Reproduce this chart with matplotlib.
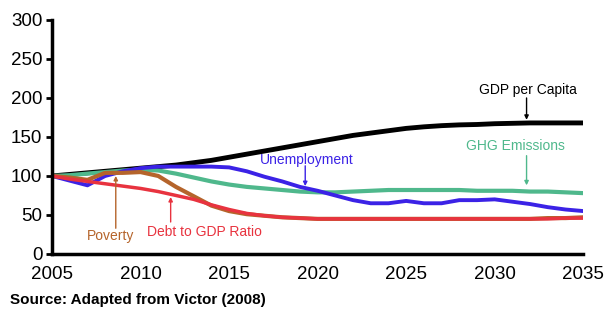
import matplotlib.pyplot as plt

plt.rcParams['font.family'] = ['Liberation Sans', 'DejaVu Sans']

years = list(range(2005, 2036))

gdp_per_capita = [100, 102, 104, 106, 108, 110, 112, 114, 117, 120, 124, 128, 132, 136, 140,
                  144, 148, 152, 155, 158, 161, 163, 164.5, 165.5, 166, 167, 167.5, 168, 168, 168, 168]
unemployment = [100, 94, 88, 100, 106, 110, 112, 112, 112, 112, 111, 106, 99, 93, 86,
                81, 75, 69, 65, 65, 68, 65, 65, 69, 69, 70, 67, 64, 60, 57, 55]
ghg_emissions = [100, 101, 103, 105, 107, 108, 107, 103, 98, 93, 89, 86, 84, 82, 80,
                 79, 79, 80, 81, 82, 82, 82, 82, 82, 81, 81, 81, 80, 80, 79, 78]
poverty = [100, 98, 95, 104, 104, 105, 100, 86, 74, 62, 55, 51, 49, 47, 46,
           45, 45, 45, 45, 45, 45, 45, 45, 45, 45, 45, 45, 45, 46, 46, 47]
debt_to_gdp = [100, 96, 93, 90, 87, 84, 80, 75, 70, 63, 57, 52, 49, 47, 46,
               45, 45, 45, 45, 45, 45, 45, 45, 45, 45, 45, 45, 45, 45, 46, 46]

fig = plt.figure(figsize=(6.05, 3.12), dpi=100)
ax = fig.add_axes([0.086, 0.186, 0.878, 0.75])

ax.plot(years, gdp_per_capita, color='black', lw=3.5)
ax.plot(years, ghg_emissions, color='#4fb88c', lw=3)
ax.plot(years, unemployment, color='#3b22e6', lw=2.8)
ax.plot(years, poverty, color='#b5642b', lw=3)
ax.plot(years, debt_to_gdp, color='#e8333f', lw=2.5)

# etiquetas y flechas verticales
def label(text, pos, arrow_x, arrow_from, arrow_to, color, va='center'):
    ax.text(pos[0], pos[1], text, color=color, fontsize=10, ha='center', va=va)
    ax.annotate('', xy=(arrow_x, arrow_to), xytext=(arrow_x, arrow_from),
                arrowprops=dict(arrowstyle='-|>', mutation_scale=6, color=color, lw=1,
                                shrinkA=0, shrinkB=0))

label('GDP per Capita', (2031.9, 210), 2031.8, 200, 172, 'black')
label('GHG Emissions', (2031.2, 138), 2031.8, 126, 88, '#4fb88c')
label('Unemployment', (2019.4, 121), 2019.3, 113, 87, '#3b22e6')
label('Poverty', (2008.3, 23), 2008.6, 33, 100, '#b5642b')
label('Debt to GDP Ratio', (2013.6, 28), 2011.7, 41, 73, '#e8333f')

ax.set_xlim(2005, 2035)
ax.set_ylim(0, 300)
ax.set_xticks(range(2005, 2036, 5))
ax.set_yticks(range(0, 301, 50))
ax.spines['top'].set_visible(False)
ax.spines['right'].set_visible(False)
ax.spines['left'].set_linewidth(2.5)
ax.spines['bottom'].set_linewidth(2.5)
ax.tick_params(axis='y', length=4, width=2, labelsize=13.5, pad=3)
ax.tick_params(axis='x', length=0, labelsize=13.5, pad=9)

fig.text(0.017, 0.025, 'Source: Adapted from Victor (2008)', fontsize=11, fontweight='bold')

fig.savefig('out.png', dpi=100)
